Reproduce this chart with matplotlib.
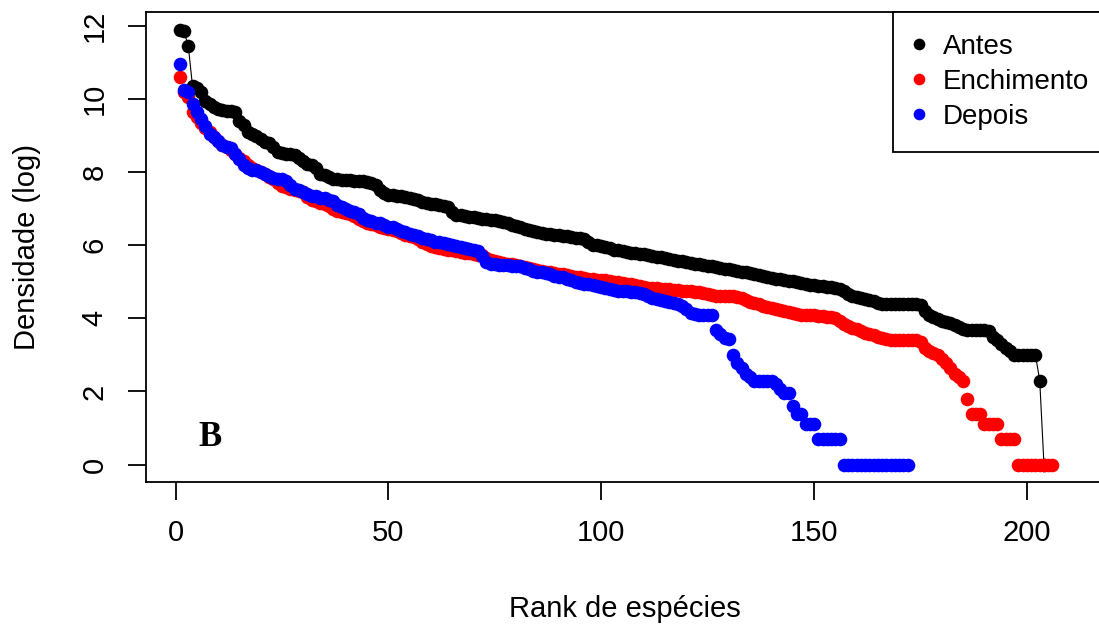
#rank-abundance plot (Densidade log vs rank de especies)
import numpy as np
import matplotlib.pyplot as plt
from matplotlib.lines import Line2D

# values, one per rank
antes = [11.9, 11.85, 11.45, 10.35, 10.3, 10.2, 9.95, 9.85, 9.78, 9.72,
         9.7, 9.68, 9.66, 9.64, 9.4, 9.3, 9.1, 9.05, 9.0, 8.9,
         8.82, 8.8, 8.7, 8.55, 8.52, 8.5, 8.5, 8.48, 8.4, 8.3,
         8.23, 8.2, 8.1, 7.96, 7.92, 7.88, 7.82, 7.8, 7.78, 7.78,
         7.78, 7.76, 7.75, 7.75, 7.72, 7.7, 7.65, 7.5, 7.42, 7.38,
         7.37, 7.36, 7.35, 7.33, 7.3, 7.27, 7.25, 7.18, 7.16, 7.14,
         7.12, 7.1, 7.07, 7.05, 6.9, 6.83, 6.82, 6.8, 6.78, 6.76,
         6.74, 6.73, 6.72, 6.7, 6.68, 6.66, 6.64, 6.6, 6.56, 6.53,
         6.5, 6.45, 6.41, 6.38, 6.36, 6.34, 6.32, 6.3, 6.28, 6.27,
         6.25, 6.24, 6.22, 6.2, 6.19, 6.18, 6.1, 6.02, 6.0, 5.98,
         5.95, 5.92, 5.88, 5.86, 5.84, 5.82, 5.8, 5.78, 5.77, 5.75,
         5.73, 5.71, 5.69, 5.67, 5.65, 5.63, 5.6, 5.58, 5.56, 5.54,
         5.52, 5.5, 5.48, 5.46, 5.44, 5.42, 5.4, 5.38, 5.36, 5.34,
         5.32, 5.3, 5.28, 5.26, 5.24, 5.21, 5.19, 5.17, 5.14, 5.11,
         5.09, 5.07, 5.05, 5.03, 5.01, 4.99, 4.96, 4.94, 4.92, 4.9,
         4.89, 4.88, 4.87, 4.86, 4.84, 4.8, 4.74, 4.68, 4.62, 4.58,
         4.55, 4.52, 4.5, 4.47, 4.43, 4.39, 4.38, 4.38, 4.38, 4.38,
         4.38, 4.38, 4.38, 4.38, 4.36, 4.2, 4.1, 4.04, 3.98, 3.93,
         3.9, 3.87, 3.82, 3.76, 3.72, 3.69, 3.69, 3.69, 3.69, 3.69,
         3.66, 3.5, 3.4, 3.3, 3.2, 3.1, 3.0, 3.0, 3.0, 3.0,
         3.0, 3.0, 2.3, 0.0]

enchimento = [10.6, 10.2, 10.05, 9.65, 9.5, 9.35, 9.2, 9.1, 8.95, 8.85,
              8.75, 8.7, 8.6, 8.5, 8.4, 8.3, 8.2, 8.12, 8.06, 8.0,
              7.95, 7.88, 7.8, 7.7, 7.62, 7.58, 7.55, 7.52, 7.48, 7.45,
              7.32, 7.25, 7.2, 7.16, 7.12, 7.06, 7.0, 6.95, 6.9, 6.88,
              6.85, 6.8, 6.72, 6.66, 6.62, 6.58, 6.55, 6.5, 6.47, 6.45,
              6.42, 6.38, 6.33, 6.28, 6.25, 6.22, 6.17, 6.1, 6.04, 5.98,
              5.96, 5.92, 5.9, 5.88, 5.86, 5.84, 5.82, 5.8, 5.78, 5.76,
              5.74, 5.72, 5.66, 5.6, 5.56, 5.54, 5.52, 5.5, 5.48, 5.45,
              5.42, 5.4, 5.37, 5.34, 5.32, 5.3, 5.28, 5.26, 5.24, 5.22,
              5.2, 5.18, 5.16, 5.14, 5.12, 5.1, 5.08, 5.07, 5.06, 5.05,
              5.04, 5.02, 5.0, 4.99, 4.97, 4.95, 4.93, 4.9, 4.88, 4.86,
              4.84, 4.83, 4.82, 4.81, 4.8, 4.79, 4.78, 4.77, 4.76, 4.75,
              4.74, 4.73, 4.72, 4.7, 4.66, 4.64, 4.62, 4.61, 4.6, 4.6,
              4.6, 4.58, 4.55, 4.5, 4.46, 4.42, 4.39, 4.35, 4.32, 4.28,
              4.25, 4.22, 4.2, 4.17, 4.14, 4.12, 4.1, 4.09, 4.08, 4.08,
              4.07, 4.06, 4.05, 4.04, 4.0, 3.92, 3.85, 3.8, 3.75, 3.72,
              3.66, 3.6, 3.56, 3.54, 3.5, 3.45, 3.43, 3.42, 3.41, 3.4,
              3.4, 3.4, 3.4, 3.4, 3.36, 3.2, 3.1, 3.05, 3.0, 2.89,
              2.77, 2.64, 2.48, 2.4, 2.3, 1.79, 1.39, 1.39, 1.39, 1.1,
              1.1, 1.1, 1.1, 0.69, 0.69, 0.69, 0.69, 0.0, 0.0, 0.0,
              0.0, 0.0, 0.0, 0.0, 0.0, 0.0]

depois = [10.95, 10.25, 10.2, 9.85, 9.65, 9.45, 9.25, 9.05, 8.95, 8.85,
          8.75, 8.7, 8.65, 8.5, 8.35, 8.2, 8.1, 8.05, 8.05, 8.0,
          7.95, 7.9, 7.85, 7.8, 7.8, 7.75, 7.65, 7.55, 7.5, 7.45,
          7.4, 7.35, 7.35, 7.3, 7.3, 7.25, 7.2, 7.1, 7.05, 7.0,
          6.95, 6.9, 6.85, 6.75, 6.7, 6.65, 6.6, 6.6, 6.55, 6.5,
          6.5, 6.45, 6.4, 6.35, 6.3, 6.27, 6.25, 6.2, 6.18, 6.14,
          6.1, 6.08, 6.05, 6.03, 6.0, 5.98, 5.95, 5.92, 5.9, 5.88,
          5.85, 5.7, 5.55, 5.5, 5.48, 5.46, 5.45, 5.45, 5.44, 5.43,
          5.42, 5.38, 5.35, 5.3, 5.28, 5.26, 5.24, 5.2, 5.17, 5.14,
          5.12, 5.08, 5.05, 5.0, 4.98, 4.95, 4.93, 4.9, 4.88, 4.86,
          4.84, 4.8, 4.77, 4.76, 4.75, 4.74, 4.73, 4.72, 4.7, 4.68,
          4.6, 4.55, 4.52, 4.5, 4.47, 4.44, 4.42, 4.4, 4.33, 4.26,
          4.15, 4.12, 4.1, 4.1, 4.1, 4.1, 3.69, 3.58, 3.47, 3.43,
          3.0, 2.77, 2.64, 2.48, 2.4, 2.3, 2.3, 2.3, 2.3, 2.3,
          2.2, 2.08, 1.95, 1.95, 1.61, 1.39, 1.39, 1.1, 1.1, 1.1,
          0.69, 0.69, 0.69, 0.69, 0.69, 0.69, 0.0, 0.0, 0.0, 0.0,
          0.0, 0.0, 0.0, 0.0, 0.0, 0.0, 0.0, 0.0, 0.0, 0.0,
          0.0, 0.0]

series_names = ['Antes', 'Enchimento', 'Depois']
series_colors = ['black', 'red', 'blue']
xticks = [0, 50, 100, 150, 200]
yticks = [0, 2, 4, 6, 8, 10, 12]

plt.rcParams['font.family'] = ['Liberation Sans', 'DejaVu Sans']

fig = plt.figure(figsize=(10.99, 6.25), dpi=100)
# plot box in pixels: left 146, right 1104 (cut off), top 12, bottom 482
ax = fig.add_axes([146/1099, 143/625, 958/1099, 470/625])

x_a = np.arange(1, len(antes) + 1)
x_e = np.arange(1, len(enchimento) + 1)
x_d = np.arange(1, len(depois) + 1)

# antes drawn like type="b": thin line under the points
ax.plot(x_a, antes, color='black', lw=0.8, zorder=2)
ax.plot(x_a, antes, 'o', color='black', ms=9.8, mew=0, zorder=3)
ax.plot(x_e, enchimento, 'o', color='red', ms=9.8, mew=0, zorder=4)
ax.plot(x_d, depois, 'o', color='blue', ms=9.8, mew=0, zorder=5)

ax.set_xlim(-6.93, 218.1)
ax.set_ylim(-0.476, 12.38)
ax.set_xticks(xticks)
ax.set_yticks(yticks)

for s in ax.spines.values():
    s.set_linewidth(1.3)
ax.tick_params(direction='out', length=13, width=1.3, labelsize=21)
ax.tick_params(axis='x', pad=13.7)
ax.tick_params(axis='y', pad=14, labelrotation=90)
for lab in ax.get_yticklabels():
    lab.set_va('center')

ax.set_xlabel('Rank de espécies', fontsize=21, va='baseline')
ax.xaxis.set_label_coords(0.5, -0.287)
ax.set_ylabel('Densidade (log)', fontsize=21, va='baseline')
ax.yaxis.set_label_coords(-0.116, 0.5)

ax.text(8.1, 0.75, 'B', family='Liberation Serif', fontweight='bold',
        fontsize=25, ha='center', va='center')

# legend sits at the top right and runs past the cut-off right edge
handles = [Line2D([], [], ls='none', marker='o', color=c, ms=8.4, mew=0)
           for c in series_colors]
leg = ax.legend(handles, series_names, loc='upper right', bbox_to_anchor=(1.0074, 1),
                borderaxespad=0, fontsize=20, fancybox=False, framealpha=1,
                edgecolor='black', handlelength=0.32, handletextpad=0.72,
                borderpad=0.78, labelspacing=0.33)
leg.get_frame().set_linewidth(1.3)

fig.savefig('out.png', dpi=100)
